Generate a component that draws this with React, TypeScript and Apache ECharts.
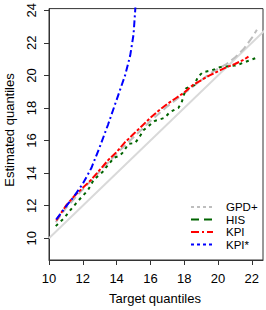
import React, { useEffect, useRef } from "react";
import * as echarts from "echarts";

const xTicks = [10, 12, 14, 16, 18, 20, 22];
const yTicks = [10, 12, 14, 16, 18, 20, 22, 24];

const diagonal: number[][] = [[10, 10], [23, 23]];

const gpdPlus: number[][] = [
  [10.4, 11.0], [11, 11.85], [12, 13.0], [13, 14.1], [14, 15.2], [15, 16.2],
  [16, 17.2], [17, 18.1], [18, 18.9], [19, 19.7], [19.5, 20.1], [20, 20.4],
  [20.5, 20.7], [21, 21.1], [21.5, 21.6], [22, 22.3], [22.3, 22.8],
];

const his: number[][] = [
  [10.4, 10.75], [10.9, 11.25], [11.2, 11.65], [11.6, 12.15], [11.9, 12.5],
  [12.3, 12.95], [12.65, 13.6], [13.15, 14.05], [13.45, 14.45], [13.85, 14.95],
  [14.15, 15.05], [14.4, 15.3], [14.7, 15.8], [15.1, 15.85], [15.4, 16.3],
  [15.6, 16.65], [16.25, 17.2], [16.85, 17.4], [17.15, 17.75], [17.65, 18.0],
  [17.85, 18.35], [18.1, 19.2], [18.6, 19.4], [18.8, 19.9], [19.1, 20.2],
  [19.6, 20.3], [20.1, 20.5], [20.5, 20.55], [21.0, 20.6], [21.3, 20.7],
  [21.8, 20.9], [22.2, 21.05],
];

const kpi: number[][] = [
  [10.43, 11.1], [11, 12.0], [11.5, 12.6], [12, 13.1], [12.5, 13.6], [13, 14.2],
  [13.5, 14.8], [14, 15.3], [14.5, 15.9], [15, 16.4], [15.5, 16.9], [16, 17.4],
  [16.5, 17.85], [17, 18.25], [17.5, 18.6], [18, 18.95], [18.5, 19.4], [19, 19.7],
  [19.5, 20.0], [20, 20.25], [20.5, 20.5], [21, 20.7], [21.5, 20.95], [21.8, 21.15],
];

const kpiStar: number[][] = [
  [10.43, 11.16], [11.0, 11.95], [11.5, 12.6], [12.0, 13.35], [12.5, 14.3],
  [13.0, 15.6], [13.5, 17.0], [14.0, 18.5], [14.5, 20.0], [14.8, 21.2],
  [15.0, 22.5], [15.1, 24.0], [15.15, 25.0],
];

const legendNames = ["GPD+", "HIS", "KPI", "KPI*"];
const legendColors = ["#bebebe", "#006400", "#ff0000", "#0000ff"];
const legendDashes = [[3, 3], [8, 5], [8, 3, 2, 3], [3, 3]];

const FONT = "'Liberation Sans', Arial, Helvetica, sans-serif";

export default function App() {
  const ref = useRef<HTMLDivElement>(null);
  useEffect(() => {
    if (!ref.current) return;
    const chart = echarts.init(ref.current, null, { renderer: "svg" });
    const legendRows = [207, 219.5, 232, 244.5];
    const graphics: any[] = [];
    legendNames.forEach((n, i) => {
      graphics.push({
        type: "line",
        shape: { x1: 191, y1: legendRows[i], x2: 213, y2: legendRows[i] },
        style: { stroke: legendColors[i], lineWidth: 2, lineDash: legendDashes[i] },
      });
      graphics.push({
        type: "text",
        x: 226,
        y: legendRows[i],
        style: {
          text: n,
          fill: "#000",
          font: `11.5px ${FONT}`,
          lineHeight: 11,
          align: "left",
          verticalAlign: "middle",
        },
      });
    });
    graphics.push({
      type: "text",
      x: 155,
      y: 298.5,
      style: { text: "Target quantiles", fill: "#000", font: `13px ${FONT}`, align: "center", verticalAlign: "middle" },
    });
    graphics.push({
      type: "text",
      x: 9.5,
      y: 130,
      rotation: Math.PI / 2,
      style: { text: "Estimated quantiles", fill: "#000", font: `13px ${FONT}`, align: "center", verticalAlign: "middle" },
    });

    const lineSeries = (data: number[][], color: string, dash: any, width = 2) => ({
      type: "line",
      data,
      showSymbol: false,
      symbol: "none",
      clip: true,
      lineStyle: { color, width, type: dash },
      silent: true,
    });

    chart.setOption({
      animation: false,
      grid: {
        left: 49,
        right: 3,
        top: 2,
        bottom: 50,
        show: true,
        borderColor: "#333",
        borderWidth: 1,
        backgroundColor: "transparent",
      },
      xAxis: {
        type: "value",
        min: 10,
        max: 22.66,
        axisLine: { show: true, lineStyle: { color: "#333", width: 1 } },
        axisTick: { show: true, length: 5, customValues: xTicks, lineStyle: { color: "#333" } },
        axisLabel: {
          customValues: xTicks,
          color: "#000",
          fontSize: 13,
          fontFamily: FONT,
          margin: 12,
        },
        splitLine: { show: false },
      },
      yAxis: {
        type: "value",
        min: 8.67,
        max: 24.1,
        axisLine: { show: true, lineStyle: { color: "#333", width: 1 } },
        axisTick: { show: true, length: 5, customValues: yTicks, lineStyle: { color: "#333" } },
        axisLabel: {
          customValues: yTicks,
          color: "#000",
          fontSize: 13,
          fontFamily: FONT,
          rotate: 90,
          margin: 11,
        },
        splitLine: { show: false },
      },
      series: [
        lineSeries(diagonal, "#d9d9d9", "solid"),
        lineSeries(gpdPlus, "#bebebe", [8, 4]),
        lineSeries(his, "#006400", [3, 4]),
        lineSeries(kpi, "#ff0000", [7, 2, 3, 2]),
        lineSeries(kpiStar, "#0000ff", [7, 3, 2, 3]),
      ],
      graphic: graphics,
    });
    return () => chart.dispose();
  }, []);
  return (
    <div
      ref={ref}
      style={{ position: "fixed", left: 0, top: 0, width: 266, height: 310, background: "#fff" }}
    />
  );
}
